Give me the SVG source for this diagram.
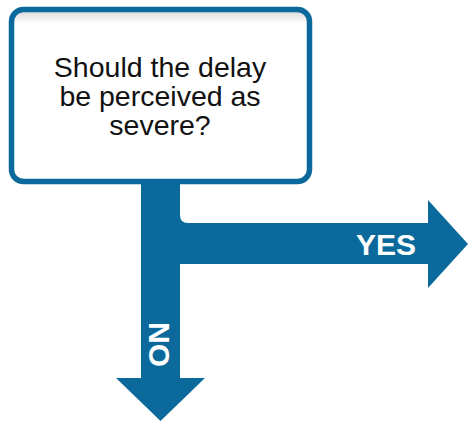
<svg xmlns="http://www.w3.org/2000/svg" width="470" height="423" viewBox="0 0 470 423">
  <style>
    .q { font-family: "Liberation Sans", Arial, sans-serif; font-size: 28.5px; fill: #111111; text-anchor: middle; }
    .lbl { font-family: "Liberation Sans", Arial, sans-serif; font-weight: bold; font-size: 30px; fill: #ffffff; }
    .blue { fill: #0b6a9b; }
  </style>
  <defs>
    <linearGradient id="inner" x1="0" y1="0" x2="0" y2="1">
      <stop offset="0" stop-color="#d4d4d4"/>
      <stop offset="0.08" stop-color="#ffffff"/>
      <stop offset="1" stop-color="#ffffff"/>
    </linearGradient>
  </defs>
  <rect width="470" height="423" fill="#ffffff"/>
  <g id="connectors">
    <path class="blue" d="M141,182 L180,182 L180,215 Q180,223 188,223 L428,223 L428,200 L468,244 L428,288 L428,264 L180,264 L180,378 L205,378 L160.5,421 L116,378 L141,378 Z"/>
    <text class="lbl" x="356" y="255">YES</text>
    <text class="lbl" transform="translate(149,344.5) rotate(90)" text-anchor="middle">NO</text>
  </g>
  <g id="question">
    <rect x="11.5" y="9.5" width="298" height="172" rx="12" ry="12" fill="url(#inner)" stroke="#0b6a9b" stroke-width="5.5"/>
    <text class="q" x="160" y="77">Should the delay</text>
    <text class="q" x="160" y="106">be perceived as</text>
    <text class="q" x="160" y="135">severe?</text>
  </g>
</svg>
